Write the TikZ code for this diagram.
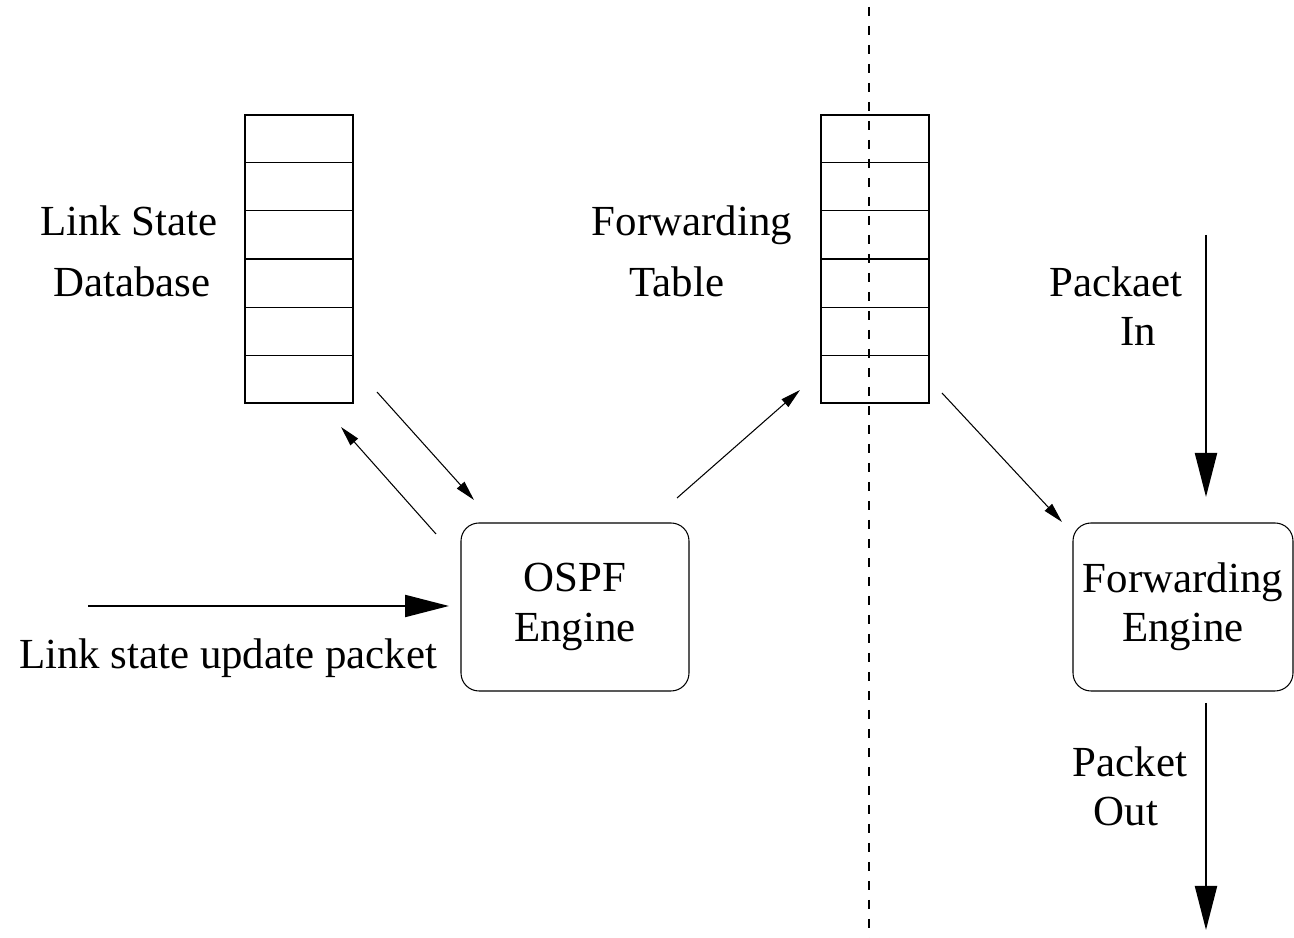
\documentclass[tikz,border=0pt]{standalone}
\usepackage{fontspec}
\setmainfont{Liberation Serif}
\usetikzlibrary{shapes,calc,arrows.meta}

\begin{document}
\begin{tikzpicture}[x=0.1mm,y=-0.1mm,line width=0.3pt,
	>={Triangle[length=2mm,width=1mm]},
	font=\fontsize{12.2}{14}\selectfont,
	dbtable/.style={draw,line width=0.4pt,minimum width=10.8mm,minimum height=28.8mm,inner sep=0pt},
	engine/.style={draw,rounded corners=1.8mm,minimum height=16.8mm,inner sep=0pt,align=center},
	word/.style={anchor=base,inner sep=0pt},
	bigarrow/.style={line width=0.6pt,-{Triangle[length=4.4mm,width=2.2mm]}}]
	\useasboundingbox (0,0) rectangle (1294,938);

	% the two tables
	\node[dbtable] (lsdb) at (299,259) {};
	\node[dbtable] (ftab) at (875,259) {};
	\foreach \t in {lsdb,ftab}
		\foreach \i in {1,...,5}
			\draw[line width=0.4pt] ($(\t.north west)!\i/6!(\t.south west)$) -- ($(\t.north east)!\i/6!(\t.south east)$);

	% engines
	\node[engine,minimum width=22.8mm] (ospf) at (575,607) {OSPF\\Engine};
	\node[engine,minimum width=22mm] (fwd) at (1183,607) {Forwarding\\ Engine};

	% labels
	\node[word] (lsA) at (129,236) {Link State};
	\node[word] (lsB) at (132,297) {Database};
	\node[word] (ftA) at (692,236) {Forwarding};
	\node[word] (ftB) at (677,297) {Table};
	\node[word] (inA) at (1116,297) {Packaet};
	\node[word] (inB) at (1138,346) {In};
	\node[word] (outA) at (1130,777) {Packet};
	\node[word] (outB) at (1126,826) {Out};
	\node[word] (upd) at (228,669) {Link state update packet};

	% arrow ends
	\coordinate (a1) at (377,392); \coordinate (a2) at (474,500);
	\coordinate (b1) at (436,534); \coordinate (b2) at (341,427);
	\coordinate (c1) at (677,498); \coordinate (c2) at (800,390);
	\coordinate (d1) at (942,393); \coordinate (d2) at (1062,522);
	\coordinate (u1) at (88,606);  \coordinate (u2) at (449,606);
	\coordinate (i1) at (1206,235); \coordinate (i2) at (1206,497);
	\coordinate (o1) at (1206,703); \coordinate (o2) at (1206,930);

	\path[->]
		(a1) edge (a2)
		(b1) edge (b2)
		(c1) edge (c2)
		(d1) edge (d2);
	\path[bigarrow]
		(u1) edge (u2)
		(i1) edge (i2)
		(o1) edge (o2);

	% split line
	\coordinate (top) at (869,7);
	\coordinate (bot) at (869,938);
	\draw[dash pattern=on 0.9mm off 1mm] (top) -- (bot);
\end{tikzpicture}
\end{document}
